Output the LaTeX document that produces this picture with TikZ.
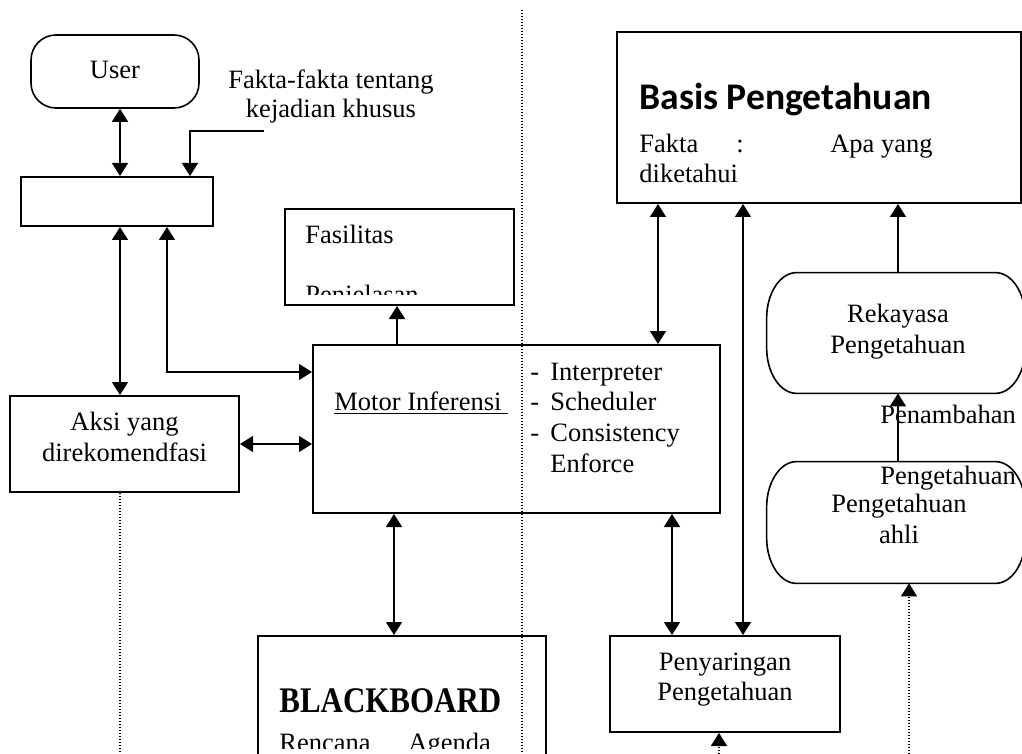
\documentclass[tikz,border=0pt]{standalone}
\usepackage{fontspec}
\usepackage{graphicx}
\setmainfont{Liberation Serif}
\newfontfamily\headsans{Carlito}
\usetikzlibrary{arrows.meta}
% stadium outline with elliptical ends, drawn around an existing node
\newcommand\drawcapsule[1]{%
  \draw[line width=0.8pt]
    ([xshift=15pt]#1.north west) -- ([xshift=-15pt]#1.north east)
    arc[start angle=90,end angle=0,x radius=15pt,y radius=23pt]
    -- ([yshift=23pt]#1.south east)
    arc[start angle=0,end angle=-90,x radius=15pt,y radius=23pt]
    -- ([xshift=15pt]#1.south west)
    arc[start angle=270,end angle=180,x radius=15pt,y radius=23pt]
    -- ([yshift=-23pt]#1.north west)
    arc[start angle=180,end angle=90,x radius=15pt,y radius=23pt] -- cycle;}
\begin{document}
\begin{tikzpicture}[x=0.5pt,y=-0.5pt,
  box/.style={draw, line width=1pt, inner sep=0pt},
  plain/.style={inner sep=0pt},
  txt/.style={inner sep=0pt, font=\fontsize{13.25}{15.4}\selectfont},
  sgl/.style={line width=0.75pt, -{Triangle[width=8pt,length=6.5pt]}},
  dbl/.style={line width=0.75pt, {Triangle[width=8pt,length=6.5pt]}-{Triangle[width=8pt,length=6.5pt]}},
  dot/.style={line width=0.6pt, dash pattern=on 0.6pt off 0.9pt},
  dotarrow/.style={dot, -{Triangle[width=8pt,length=6.5pt]}}
]
\useasboundingbox (0,0) rectangle (1022,754);

% ---------- boxes ----------
\node[box, line width=0.8pt, minimum width=84pt, minimum height=36.5pt, rounded corners=12.5pt] (user) at (115,71.5) {};
\node[box, minimum width=96pt, minimum height=24.5pt] (inbox) at (117,201.5) {};
\node[box, minimum width=114.5pt, minimum height=48pt] (aksi) at (124.5,444) {};
\node[box, minimum width=114.5pt, minimum height=48pt] (fasil) at (399.5,257) {};
\node[box, minimum width=203.5pt, minimum height=84pt] (motor) at (516.5,429) {};
\node[box, minimum width=202pt, minimum height=85.5pt] (basis) at (819,117.5) {};
\node[plain, minimum width=129pt, minimum height=60pt] (rek) at (896,333) {};
\node[plain, minimum width=129pt, minimum height=60.5pt] (ahli) at (896,522.5) {};
\drawcapsule{rek}
\drawcapsule{ahli}
\node[box, minimum width=115pt, minimum height=48pt] (saring) at (725,684) {};
\node[box, minimum width=144pt, minimum height=82pt] (black) at (402,718) {};

% ---------- texts ----------
\node[txt, anchor=base] (userT) at (115,79) {User};
\node[txt, anchor=base] (fakta1) at (331,89) {Fakta-fakta tentang};
\node[txt, anchor=base] (fakta2) at (331,118) {kejadian khusus};
\node[txt, anchor=base] (aksi1) at (124.5,430) {Aksi yang};
\node[txt, anchor=base] (aksi2) at (124.5,461) {direkomendfasi};
\node[txt, anchor=base west] (fasil1) at (305,243) {Fasilitas};
\begin{scope}
  \clip (286,210) rectangle (513,294.5);
  \node[txt, anchor=base west] (fasil2) at (305,303) {Penjelasan};
\end{scope}
\node[txt, anchor=base west] (motorT) at (334,410) {\underline{Motor Inferensi\ }};
\node[txt, anchor=base west] (d1) at (530,380) {-};
\node[txt, anchor=base west] (d2) at (530,410) {-};
\node[txt, anchor=base west] (d3) at (530,441) {-};
\node[txt, anchor=base west] (l1) at (550,380) {Interpreter};
\node[txt, anchor=base west] (l2) at (550,410) {Scheduler};
\node[txt, anchor=base west] (l3) at (550,441) {Consistency};
\node[txt, anchor=base west] (l4) at (550,472) {Enforce};
\node[plain, anchor=base west, font=\headsans\bfseries\fontsize{18.8}{22}\selectfont] (basisT) at (639,110) {Basis Pengetahuan};
\node[txt, anchor=base west] (bf1) at (639,153) {Fakta};
\node[txt, anchor=base west] (bf2) at (736,153) {:};
\node[txt, anchor=base east] (bf3) at (933,153) {Apa yang};
\node[txt, anchor=base west] (bf4) at (639,183) {diketahui};
\node[txt, anchor=base] (rek1) at (898,322) {Rekayasa};
\node[txt, anchor=base] (rek2) at (898,353) {Pengetahuan};
\node[txt, anchor=base west] (pen1) at (880,423) {Penambahan};
\node[txt, anchor=base west] (pen2) at (880,484) {Pengetahuan};
\node[txt, anchor=base] (ahli1) at (899,512) {Pengetahuan};
\node[txt, anchor=base] (ahli2) at (899,543) {ahli};
\node[txt, anchor=base] (sar1) at (725,670) {Penyaringan};
\node[txt, anchor=base] (sar2) at (725,700) {Pengetahuan};
\node[plain, anchor=base west] (blackT) at (279,712) {\scalebox{0.86}[1]{\fontsize{18}{22}\selectfont\bfseries BLACKBOARD}};
\begin{scope}
  \clip (259,637) rectangle (545,748);
  \node[txt, anchor=base west] (bb1) at (279,751) {Rencana};
  \node[txt, anchor=base west] (bb2) at (408,751) {Agenda};
\end{scope}

% ---------- free ends ----------
\coordinate (faktaEnd) at (264,131);
\coordinate (divTop) at (522,10);
\coordinate (divBot) at (522,754);
\coordinate (leftBot) at (120,754);
\coordinate (sarBot) at (719,754);
\coordinate (ahliBot) at (909,754);

% ---------- connectors ----------
\draw[dbl] (user.south -| 120,0) -- (inbox.north -| 120,0);
\draw[sgl] (faktaEnd) -| (inbox.north -| 190,0);
\draw[dbl] (inbox.south -| 120,0) -- (aksi.north -| 120,0);
\draw[dbl] (inbox.south -| 167,0) |- (motor.west |- 0,372);
\draw[dbl] (aksi.east) -- (motor.west |- aksi.east);
\draw[sgl] (motor.north -| 397,0) -- (fasil.south -| 397,0);
\draw[dbl] (basis.south -| 658,0) -- (motor.north -| 658,0);
\draw[dbl] (basis.south -| 743,0) -- (saring.north -| 743,0);
\draw[sgl] (rek.north -| 898,0) -- (basis.south -| 898,0);
\draw[sgl] (ahli.north -| 898,0) -- (rek.south -| 898,0);
\draw[dbl] (motor.south -| 394,0) -- (black.north -| 394,0);
\draw[dbl] (motor.south -| 672,0) -- (saring.north -| 672,0);

% ---------- dotted lines ----------
\draw[dot] (divTop) -- (divBot);
\draw[dot] (aksi.south -| leftBot) -- (leftBot);
\draw[dotarrow] (sarBot) -- (saring.south -| sarBot);
\draw[dotarrow] (ahliBot) -- (ahli.south -| ahliBot);
\end{tikzpicture}
\end{document}
